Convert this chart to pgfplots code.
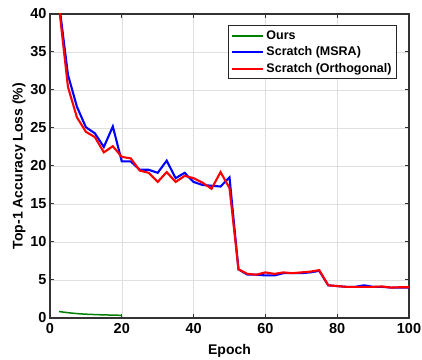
\documentclass[border=0pt]{standalone}
\usepackage{pgfplots}
\pgfplotsset{compat=1.18}
\usepackage{fontspec}
\setmainfont{Liberation Sans}
\begin{document}
\begin{tikzpicture}
\begin{axis}[
  scale only axis,
  width=359pt, height=304pt,
  xmin=0, xmax=100, ymin=0, ymax=40,
  xtick={0,20,40,60,80,100},
  ytick={0,5,10,15,20,25,30,35,40},
  tick align=inside,
  major tick length=4pt,
  grid=major,
  major grid style={gray!25, line width=0.6pt},
  axis line style={black!80, line width=1.3pt},
  tick style={black!80, line width=1pt},
  ticklabel style={font=\fontsize{14.5}{15}\selectfont\bfseries},
  xticklabel style={yshift=-2pt},
  /pgf/number format/assume math mode=true,
  xlabel={Epoch},
  ylabel={Top-1 Accuracy Loss (\%)},
  label style={font=\fontsize{14}{15}\selectfont\bfseries},
  xlabel style={yshift=-4pt},
  ylabel style={yshift=-2pt},
  legend style={at={(rel axis cs:1,1)}, anchor=north east, xshift=-12pt, yshift=-11pt,
    draw=black!85, line width=1pt, font=\fontsize{12.5}{13}\selectfont\bfseries,
    inner sep=3pt, row sep=2pt, legend cell align=left},
  legend image code/.code={\draw[#1,line width=2pt] (0cm,0cm) -- (1.1cm,0cm);},
  clip=true,
]
\addplot[color={rgb,1:red,0;green,0.5;blue,0}, line width=1.5pt, smooth] coordinates {
(2.5,0.85) (5,0.7) (7.5,0.58) (10,0.5) (12.5,0.45) (15,0.41) (17.5,0.38) (20,0.35)};
\addlegendentry{Ours}
\addplot[color=blue, line width=2.1pt] coordinates {
(2.5,41.5) (5,32.0) (7.5,27.8) (10,25.1) (12.5,24.3) (15,22.5) (17.5,25.2) (20,20.6)
(22.5,20.6) (25,19.5) (27.5,19.5) (30,19.1) (32.5,20.7) (35,18.4) (37.5,19.1) (40,17.9)
(42.5,17.5) (45,17.4) (47.5,17.3) (50,18.5) (52.5,6.4) (55,5.7) (57.5,5.7) (60,5.6)
(62.5,5.6) (65,5.9) (67.5,5.9) (70,5.9) (72.5,6.0) (75,6.2) (77.5,4.3) (80,4.2)
(82.5,4.1) (85,4.1) (87.5,4.3) (90,4.1) (92.5,4.1) (95,4.0) (97.5,4.0) (100,4.0)};
\addlegendentry{Scratch (MSRA)}
\addplot[color=red, line width=2.1pt] coordinates {
(2.5,41) (5,30.4) (7.5,26.4) (10,24.5) (12.5,23.8) (15,21.8) (17.5,22.6) (20,21.2)
(22.5,21.0) (25,19.4) (27.5,19.1) (30,17.9) (32.5,19.2) (35,17.9) (37.5,18.7) (40,18.4)
(42.5,17.8) (45,17.0) (47.5,19.2) (50,17.1) (52.5,6.4) (55,5.8) (57.5,5.7) (60,6.0)
(62.5,5.8) (65,6.0) (67.5,5.9) (70,6.0) (72.5,6.1) (75,6.3) (77.5,4.3) (80,4.2)
(82.5,4.1) (85,4.1) (87.5,4.1) (90,4.1) (92.5,4.15) (95,4.0) (97.5,4.05) (100,4.05)};
\addlegendentry{Scratch (Orthogonal)}
\end{axis}
\pgfresetboundingbox
\path ([shift={(-50pt,-42pt)}]current axis.south west) rectangle ([shift={(13pt,14pt)}]current axis.north east);
\end{tikzpicture}
\end{document}
